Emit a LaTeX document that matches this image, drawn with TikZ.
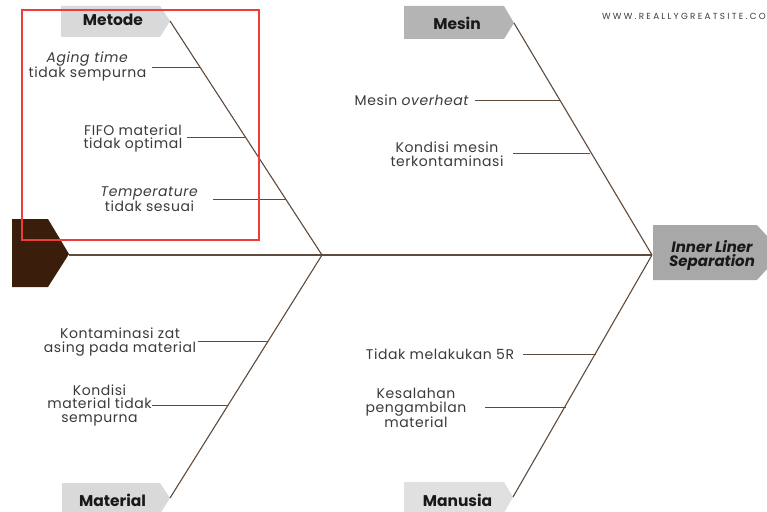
\documentclass[tikz,border=0pt]{standalone}
\usepackage{fontspec}
\setmainfont{Poppins}
\usetikzlibrary{calc}
\definecolor{bonec}{HTML}{5E4B3C}
\definecolor{tailc}{HTML}{3A1E0B}
\definecolor{lightbox}{HTML}{D9D9D9}
\definecolor{midbox}{HTML}{B4B4B4}
\definecolor{headbox}{HTML}{A8A8A8}
\definecolor{manbox}{HTML}{E0E0E0}
\definecolor{txtc}{HTML}{3A3A3A}
\definecolor{redc}{HTML}{EE3B3B}
\begin{document}
\begin{tikzpicture}[x=1pt,y=-1pt,
  boneline/.style={draw=bonec, line width=1.1pt},
  subline/.style={draw=bonec, line width=1pt},
  cat/.style={font=\bfseries\fontsize{15.5}{16}\selectfont, text=black!90, inner sep=0},
  lbl/.style={font=\fontsize{14}{13.5}\selectfont\addfontfeatures{LetterSpace=4}, text=txtc, align=center, inner sep=0},
  headtxt/.style={font=\bfseries\itshape\fontsize{15}{14}\selectfont, text=black!90, align=center, inner sep=0}]
\useasboundingbox (0,0) rectangle (767,511);
\clip (0,0) rectangle (767,511);

% tail
\fill[tailc] (12,219) -- (48,219) -- (69,254) -- (48,287) -- (12,287) -- cycle;

% coordinates
\coordinate (tailtip) at (69,255);
\coordinate (mid) at (322,255);
\coordinate (head) at (652,255);
\coordinate (metodeTip) at (170,21);
\coordinate (mesinTip) at (514,23);
\coordinate (materialTip) at (170,498);
\coordinate (manusiaTip) at (513,497);

% head box
\fill[headbox] (653,225) -- (757,225) -- (782,252.5) -- (757,280) -- (653,280) -- cycle;
\node[headtxt] (effect) at (712,255) {Inner Liner\\Separation};

% category boxes
\fill[lightbox] (61,6) -- (160,6) -- (170,21) -- (160,37) -- (61,37) -- cycle;
\node[cat] (metode) at (113,20) {Metode};
\fill[midbox] (404,6) -- (504,6) -- (514,23) -- (504,39) -- (404,39) -- cycle;
\node[cat] (mesin) at (457,23) {Mesin};
\fill[lightbox] (62,483) -- (160,483) -- (170,498) -- (160,514) -- (62,514) -- cycle;
\node[cat] (material) at (112.5,500) {Material};
\fill[manbox] (404,482) -- (504,482) -- (513,497) -- (504,513) -- (404,513) -- cycle;
\node[cat] (manusia) at (457.5,500) {Manusia};

% spine and bones
\draw[boneline] (tailtip) -- (head);
\draw[boneline] (metodeTip) -- (mid);
\draw[boneline] (materialTip) -- (mid);
\draw[boneline] (mesinTip) -- (head);
\draw[boneline] (manusiaTip) -- (head);

% Metode causes
\node[lbl] (c1) at (87.5,66.5) {\textit{Aging time}\\tidak sempurna};
\coordinate (c1s) at (152,67); \coordinate (c1b) at (200,67);
\draw[subline] (c1s) -- (c1b);
\node[lbl] (c2) at (133,138.5) {FIFO material\\tidak optimal};
\coordinate (c2s) at (187,137); \coordinate (c2b) at (245,137);
\draw[subline] (c2s) -- (c2b);
\node[lbl] (c3) at (149.5,199) {\textit{Temperature}\\tidak sesuai};
\coordinate (c3s) at (213,199); \coordinate (c3b) at (286,199);
\draw[subline] (c3s) -- (c3b);

% Mesin causes
\node[lbl] (c4) at (412,100) {Mesin \textit{overheat}};
\coordinate (c4s) at (475,100); \coordinate (c4b) at (560,100);
\draw[subline] (c4s) -- (c4b);
\node[lbl] (c5) at (447,154) {Kondisi mesin\\terkontaminasi};
\coordinate (c5s) at (513,153); \coordinate (c5b) at (590,153);
\draw[subline] (c5s) -- (c5b);

% Material causes
\node[lbl] (c6) at (120,342) {Kontaminasi zat\\asing pada material};
\coordinate (c6s) at (198,341); \coordinate (c6b) at (268,341);
\draw[subline] (c6s) -- (c6b);
\node[lbl] (c7) at (99.5,405) {Kondisi\\material tidak\\sempurna};
\coordinate (c7s) at (152,405); \coordinate (c7b) at (228,405);
\draw[subline] (c7s) -- (c7b);

% Manusia causes
\node[lbl] (c8) at (440,354) {Tidak melakukan 5R};
\coordinate (c8s) at (523,354); \coordinate (c8b) at (596,354);
\draw[subline] (c8s) -- (c8b);
\node[lbl] (c9) at (416,408) {Kesalahan\\pengambilan\\material};
\coordinate (c9s) at (485,407); \coordinate (c9b) at (566,407);
\draw[subline] (c9s) -- (c9b);

% website
\node[anchor=east, inner sep=0, text=txtc, font=\fontsize{8.8}{9}\selectfont\addfontfeatures{LetterSpace=26}] (site) at (766,16) {WWW.REALLYGREATSITE.CO};

% red highlight
\draw[redc, line width=2.8pt] (22,10) rectangle (259,240);
\end{tikzpicture}
\end{document}
